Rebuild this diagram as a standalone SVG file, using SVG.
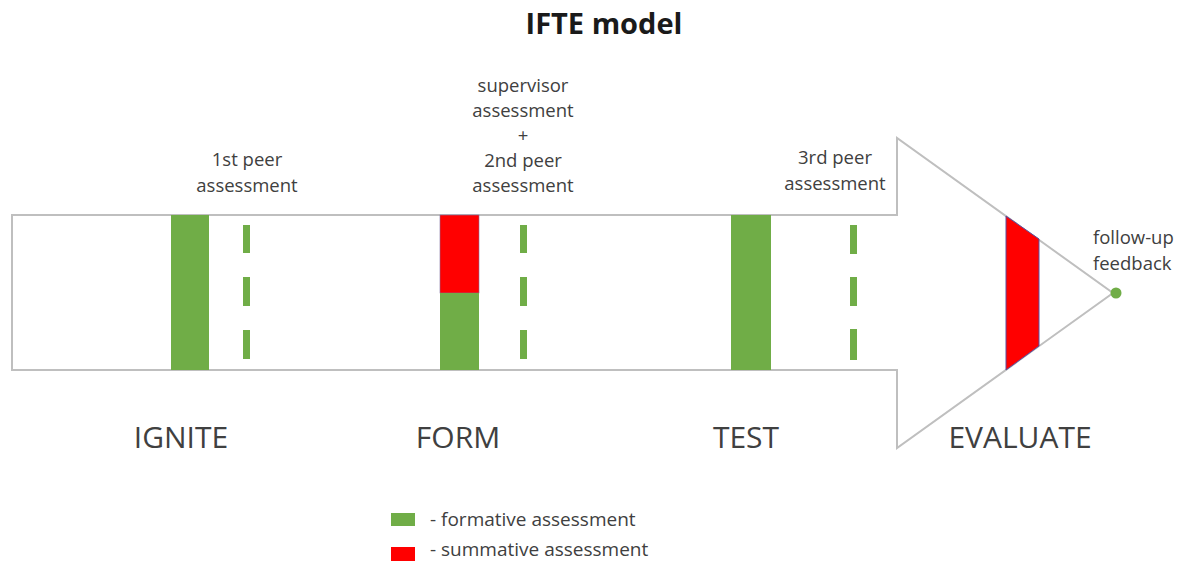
<svg xmlns="http://www.w3.org/2000/svg" width="1188" height="562" viewBox="0 0 1188 562">
<style>
.t{font-family:"Open Sans","Liberation Sans",sans-serif;fill:#404040;}
.lbl{font-size:18.5px;text-anchor:middle;}
.ph{font-size:30px;text-anchor:middle;}
.lg{font-size:19px;}
.g{fill:#70ad47;}
.r{fill:#ff0000;}
</style>
<rect width="1188" height="562" fill="#ffffff"/>
<text class="t" x="604" y="34" style="font-size:29px;font-weight:bold;fill:#1a1a1a" text-anchor="middle">IFTE model</text>
<g id="arrow">
<polygon points="12,215 897,215 897,138 1113,293 897,448 897,370 12,370" fill="#ffffff" stroke="#bfbfbf" stroke-width="2"/>
</g>
<g id="ignite">
<rect class="g" x="171" y="215" width="38" height="155"/>
<rect class="g" x="243" y="225" width="7" height="28"/>
<rect class="g" x="243" y="277" width="7" height="29"/>
<rect class="g" x="243" y="330" width="7" height="29"/>
<text class="t lbl" x="247" y="166">1st peer</text>
<text class="t lbl" x="247" y="192">assessment</text>
<text class="t ph" x="181" y="448">IGNITE</text>
</g>
<g id="form">
<rect class="r" x="440" y="215" width="39" height="78" stroke="#7f6f9f" stroke-width="0.6"/>
<rect class="g" x="440" y="293" width="39" height="77"/>
<rect class="g" x="520" y="225" width="7" height="28"/>
<rect class="g" x="520" y="277" width="7" height="29"/>
<rect class="g" x="520" y="330" width="7" height="29"/>
<text class="t lbl" x="523" y="92">supervisor</text>
<text class="t lbl" x="523" y="117">assessment</text>
<text class="t lbl" x="523" y="142">+</text>
<text class="t lbl" x="523" y="167">2nd peer</text>
<text class="t lbl" x="523" y="192">assessment</text>
<text class="t ph" x="458" y="448">FORM</text>
</g>
<g id="test">
<rect class="g" x="731" y="215" width="40" height="155"/>
<rect class="g" x="850" y="225" width="7" height="29"/>
<rect class="g" x="850" y="277" width="7" height="29"/>
<rect class="g" x="850" y="329" width="7" height="31"/>
<text class="t lbl" x="835" y="164">3rd peer</text>
<text class="t lbl" x="835" y="190">assessment</text>
<text class="t ph" x="746" y="448">TEST</text>
</g>
<g id="evaluate">
<polygon class="r" points="1006,216 1039,239 1039,346 1006,370" stroke="#5a4f9f" stroke-width="1"/>
<circle class="g" cx="1116" cy="293" r="5.5"/>
<text class="t" x="1093" y="244" style="font-size:18.5px">follow-up</text>
<text class="t" x="1093" y="270" style="font-size:18.5px">feedback</text>
<text class="t ph" x="1020" y="448">EVALUATE</text>
</g>
<g id="legend">
<rect class="g" x="391" y="513" width="24" height="13"/>
<text class="t lg" x="430" y="526">- formative assessment</text>
<rect class="r" x="391" y="547" width="24" height="14"/>
<text class="t lg" x="430" y="556">- summative assessment</text>
</g>
</svg>
